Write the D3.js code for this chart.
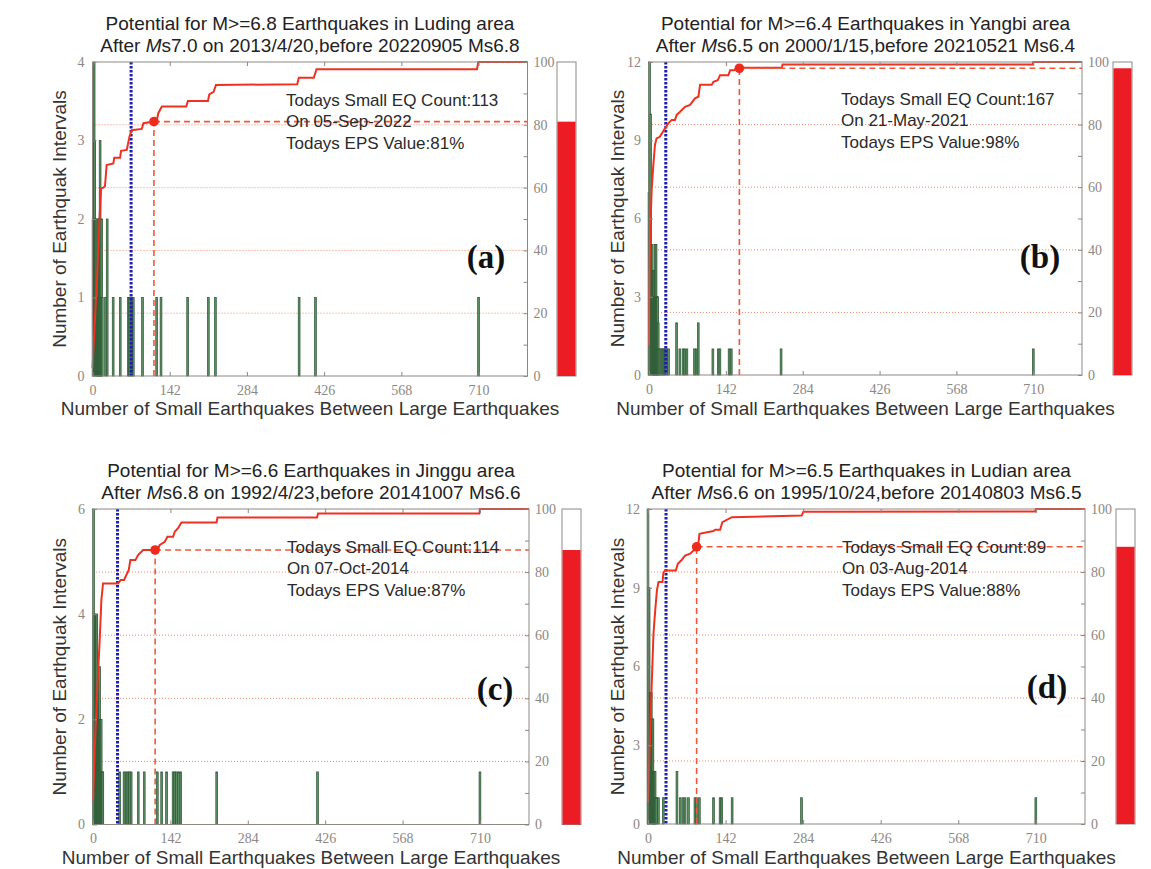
<!DOCTYPE html>
<html><head><meta charset="utf-8">
<script src="https://cdn.jsdelivr.net/npm/d3@7"></script>
<style>body{margin:0;background:#fff} svg{display:block}</style>
</head><body>
<svg id="chart" width="1151" height="869"></svg>
<script>
// ---------- data ----------
const xTicks = [0, 142, 284, 426, 568, 710];
const pctTicks = [0, 10, 20, 30, 40, 50, 60, 70, 80, 90, 100];
const pctGrid = [20, 40, 60, 80];
const yTicksA = [0, 1, 2, 3, 4];
const yTicksB = [0, 3, 6, 9, 12];
const yTicksC = [0, 2, 4, 6];
const yTicksD = [0, 3, 6, 9, 12];

const titlesA = ["Potential for M>=6.8 Earthquakes in Luding area", "after", "7.0 on 2013/4/20,before 20220905 Ms6.8"];
const titlesB = ["Potential for M>=6.4 Earthquakes in Yangbi area", "after", "6.5 on 2000/1/15,before 20210521 Ms6.4"];
const titlesC = ["Potential for M>=6.6 Earthquakes in Jinggu area", "after", "6.8 on 1992/4/23,before 20141007 Ms6.6"];
const titlesD = ["Potential for M>=6.5 Earthquakes in Ludian area", "after", "6.6 on 1995/10/24,before 20140803 Ms6.5"];

const todayCounts = [113, 167, 114, 89];
const todayDates = ["05-Sep-2022", "21-May-2021", "07-Oct-2014", "03-Aug-2014"];
const epsValues = [81, 98, 87, 88];
const blueLines = [71, 31, 45, 33];
const panelLabels = ["(a)", "(b)", "(c)", "(d)"];

// [small-quake count, number of intervals]
const barsA = [[1,2],[2,2],[3,4],[4,3],[5,2],[6,2],[7,1],[8,2],[9,1],[10,2],[11,1],[12,2],[13,2],[14,3],[15,2],[16,1],[17,2],[18,1],
  [24,1],[27,2],[38,1],[51,1],[66,1],[68,1],[71,1],[73,1],[75,1],[92,1],[118,1],[126,1],[175,1],[213,1],[226,1],[380,1],[410,1],[710,1]];
const barsB = [[0,7],[1,12],[3,10],[4,5],[5,3],[6,5],[7,4],[8,4],[9,4],[10,3],[11,4],[12,5],[13,5],[14,3],[15,3],[16,3],[17,2],[18,1],
  [20,1],[22,1],[24,1],[26,1],[28,1],[30,1],[33,1],[36,1],[51,2],[57,1],[63,1],[66,1],[70,1],[84,1],[87,1],[91,2],[118,1],[128,1],[131,1],[148,1],[152,1],[244,1],[710,1]];
const barsC = [[1,6],[3,4],[4,4],[5,4],[6,4],[7,4],[8,2],[9,2],[10,2],[11,3],[12,3],[13,2],[14,2],[15,2],[16,1],[17,1],[18,1],
  [49,1],[57,1],[61,1],[64,1],[67,1],[70,1],[83,1],[94,1],[118,1],[126,1],[135,1],[147,1],[150,1],[153,1],[157,1],[161,1],[227,1],[412,1],[710,1]];
const barsD = [[0,12],[1,9],[2,9],[3,5],[4,5],[5,5],[6,5],[7,4],[8,4],[9,4],[10,2],[11,2],[12,2],[13,2],[14,1],[16,1],[19,1],[28,1],
  [53,2],[59,1],[64,1],[68,1],[74,1],[86,1],[89,1],[94,1],[120,1],[132,1],[135,1],[154,1],[281,1],[710,1]];

// cumulative probability curve [count, percent]
const cdfA = [[0,2.5],[4.6,18.4],[8.9,33],[12.6,49],[15.7,59.8],[20,60],[23,60.5],[26,67.2],[38.4,67.7],[40,69.5],[50.7,69.5],[52.5,71.7],[63,72],
  [68,76.2],[72,78.3],[90.7,78.7],[93.7,80.5],[118,81.2],[121,83.7],[127.6,85.8],[172.4,85.8],[175.5,87.6],[212.4,87.6],[214.8,89.7],
  [222.8,90.5],[227,92.7],[376.5,92.9],[379.5,95],[407,95],[412,97.7],[707,97.7],[709.6,100],[800,100]];
const cdfB = [[0,9.6],[0.5,27.7],[1.9,43.7],[5,59.6],[8,67],[11,73.5],[14,75.6],[20,76.1],[29.6,78.8],[35.7,80.4],[42,81.5],[48,81.5],
  [51.2,83.1],[57.4,84.1],[66.6,85.7],[75.9,86.3],[85,88.4],[91.2,88.9],[94.4,92.7],[116,92.7],[119,93.7],[127,94.2],[131.4,95.8],
  [146.7,95.8],[150,97.4],[158,97.4],[162,98.2],[245.5,98.2],[246.7,99.2],[709,99.2],[710,100],[800,100]];
const cdfC = [[0,7.2],[3.1,23.6],[8,43.7],[12.3,58.5],[15.4,71.2],[18.4,76.4],[46,76.4],[51,77.5],[57,77.5],[61.3,79.1],[65.6,80.7],
  [68.6,83.8],[77.8,83.8],[82.7,85.4],[91.9,87],[118,87],[122.5,88.6],[131.7,89.6],[136.6,91.2],[147,91.2],[150,92.8],[156,93.9],
  [162.3,95.7],[226.6,95.7],[228.4,97.3],[411,97.3],[413,98.6],[709,98.6],[710,100],[800,100]];
const cdfD = [[0,6.9],[5.8,39.2],[10,60.4],[13.2,67.8],[16.3,74.1],[19.2,76.8],[26.5,76.8],[28.3,79.9],[31.4,80.5],[51,80.5],[54.6,82.6],
  [62,83.9],[68,85.2],[77.1,85.8],[83.2,86.8],[91.2,87.4],[94.2,92.1],[119.7,93],[122.9,93.4],[132,93.4],[136.2,95.8],[153.4,97.4],
  [281.4,97.9],[284.3,99.1],[709,99.2],[710,100],[800,100]];

// ---------- layout ----------
const panels = [
  {left:92.5, right:527.5, top:62, bottom:376, barX:557, yMax:4, yTicks:yTicksA, bars:barsA, cdf:cdfA, titles:titlesA, i:0, infoX:286, infoY:100, labX:486, labY:268, t1:30, t2:52, xlabY:415, ylabX:66},
  {left:649, right:1082, top:62, bottom:375, barX:1113, yMax:12, yTicks:yTicksB, bars:barsB, cdf:cdfB, titles:titlesB, i:1, infoX:841, infoY:99, labX:1040, labY:268, t1:30, t2:52, xlabY:415, ylabX:624},
  {left:93, right:529, top:509, bottom:824.5, barX:562, yMax:6, yTicks:yTicksC, bars:barsC, cdf:cdfC, titles:titlesC, i:2, infoX:287, infoY:547, labX:495, labY:700, t1:477, t2:499, xlabY:864, ylabX:66},
  {left:648, right:1085, top:509, bottom:824, barX:1116, yMax:12, yTicks:yTicksD, bars:barsD, cdf:cdfD, titles:titlesD, i:3, infoX:842, infoY:547, labX:1047, labY:698, t1:477, t2:499, xlabY:864, ylabX:624}
];

const svg = d3.select('#chart');
const GRAY = '#8d8782';
const sans = "'Liberation Sans', Arial, sans-serif";
const serif = "'Liberation Serif', 'Times New Roman', serif";

panels.forEach(p => {
  const g = svg.append('g');
  const x = d3.scaleLinear().domain([0, 800]).range([p.left, p.right]);
  const yc = d3.scaleLinear().domain([0, p.yMax]).range([p.bottom, p.top]);
  const yp = d3.scaleLinear().domain([0, 100]).range([p.bottom, p.top]);

  // dotted grid
  g.selectAll('.grid').data(pctGrid).join('line')
    .attr('x1', p.left).attr('x2', p.right)
    .attr('y1', d => yp(d)).attr('y2', d => yp(d))
    .attr('stroke', '#f2886a').attr('stroke-width', 1).attr('stroke-dasharray', '1,2');

  // histogram bars
  g.selectAll('.bar').data(p.bars).join('rect')
    .attr('x', d => x(d[0]) - 0.9).attr('width', 1.8)
    .attr('y', d => yc(d[1])).attr('height', d => p.bottom - yc(d[1]))
    .attr('fill', '#5f8f66').attr('stroke', '#2a5632').attr('stroke-width', 0.7);

  // blue dotted line
  g.append('line')
    .attr('x1', x(blueLines[p.i])).attr('x2', x(blueLines[p.i]))
    .attr('y1', p.top).attr('y2', p.bottom)
    .attr('stroke', '#1e1ea6').attr('stroke-width', 3).attr('stroke-dasharray', '2.4,1.6');

  // cumulative curve
  g.append('path').datum(p.cdf)
    .attr('d', d3.line().x(d => x(d[0])).y(d => yp(d[1])))
    .attr('fill', 'none').attr('stroke', '#ee3222').attr('stroke-width', 2);

  // today's marker
  const cx = x(todayCounts[p.i]), cy = yp(epsValues[p.i]);
  g.append('line').attr('x1', cx).attr('x2', cx).attr('y1', p.bottom).attr('y2', cy)
    .attr('stroke', '#f0583a').attr('stroke-width', 1.6).attr('stroke-dasharray', '6,4');
  g.append('line').attr('x1', cx).attr('x2', p.right).attr('y1', cy).attr('y2', cy)
    .attr('stroke', '#f0583a').attr('stroke-width', 1.6).attr('stroke-dasharray', '6,4');
  g.append('circle').attr('cx', cx).attr('cy', cy).attr('r', 4.8).attr('fill', '#ee2a1c');

  // info text
  const info = [`Todays Small EQ Count:${todayCounts[p.i]}`, `On ${todayDates[p.i]}`, `Todays EPS Value:${epsValues[p.i]}%`];
  g.selectAll('.info').data(info).join('text')
    .attr('x', p.infoX).attr('y', (d, k) => p.infoY + k * 21.5).attr('dy', '0.35em')
    .attr('font-family', sans).attr('font-size', 17).attr('fill', '#2a2a2a').text(d => d);

  // panel label
  g.append('text').attr('x', p.labX).attr('y', p.labY).attr('text-anchor', 'middle')
    .attr('font-family', serif).attr('font-weight', 'bold').attr('font-size', 33).attr('fill', '#111')
    .text(panelLabels[p.i]);

  // axes box
  g.append('rect').attr('x', p.left).attr('y', p.top).attr('width', p.right - p.left).attr('height', p.bottom - p.top)
    .attr('fill', 'none').attr('stroke', GRAY).attr('stroke-width', 1);

  const styleAxis = sel => {
    sel.select('.domain').remove();
    sel.selectAll('line').attr('stroke', GRAY);
    sel.selectAll('text').attr('fill', GRAY).attr('font-family', serif).attr('font-size', 14);
  };
  g.append('g').attr('transform', `translate(0,${p.bottom})`)
    .call(d3.axisBottom(x).tickValues(xTicks).tickSize(-4).tickSizeOuter(0).tickPadding(9).tickFormat(d3.format('d'))).call(styleAxis);
  g.append('g').attr('transform', `translate(0,${p.top})`)
    .call(d3.axisTop(x).tickValues(xTicks).tickSize(-4).tickSizeOuter(0).tickFormat('')).call(styleAxis);
  g.append('g').attr('transform', `translate(${p.left},0)`)
    .call(d3.axisLeft(yc).tickValues(p.yTicks).tickSize(-4).tickSizeOuter(0).tickPadding(8).tickFormat(d3.format('d'))).call(styleAxis);
  g.append('g').attr('transform', `translate(${p.right},0)`)
    .call(d3.axisRight(yp).tickValues(pctTicks).tickSize(-4).tickSizeOuter(0).tickPadding(6)
      .tickFormat(d => d % 20 === 0 ? d : '')).call(styleAxis);

  // side EPS bar
  g.append('rect').attr('x', p.barX).attr('y', p.top).attr('width', 19).attr('height', p.bottom - p.top)
    .attr('fill', '#fff').attr('stroke', GRAY).attr('stroke-width', 1);
  g.append('rect').attr('x', p.barX + 0.5).attr('y', yp(epsValues[p.i])).attr('width', 18).attr('height', p.bottom - yp(epsValues[p.i]))
    .attr('fill', '#ec1c24');

  // titles
  const cxT = (p.left + p.right) / 2;
  g.append('text').attr('x', cxT).attr('y', p.t1).attr('text-anchor', 'middle')
    .attr('font-family', sans).attr('font-size', 19).attr('fill', '#222').text(p.titles[0]);
  const t2 = g.append('text').attr('x', cxT).attr('y', p.t2).attr('text-anchor', 'middle')
    .attr('font-family', sans).attr('font-size', 19).attr('fill', '#222');
  t2.append('tspan').text('After ');
  t2.append('tspan').attr('font-style', 'italic').text('M');
  t2.append('tspan').text('s' + p.titles[2]);

  // axis labels
  g.append('text').attr('x', cxT).attr('y', p.xlabY).attr('text-anchor', 'middle')
    .attr('font-family', sans).attr('font-size', 19).attr('fill', '#333')
    .text('Number of Small Earthquakes Between Large Earthquakes');
  g.append('text').attr('transform', `translate(${p.ylabX},${(p.top + p.bottom) / 2}) rotate(-90)`)
    .attr('text-anchor', 'middle')
    .attr('font-family', sans).attr('font-size', 19).attr('fill', '#333')
    .text('Number of Earthquak Intervals');
});
</script></body></html>
